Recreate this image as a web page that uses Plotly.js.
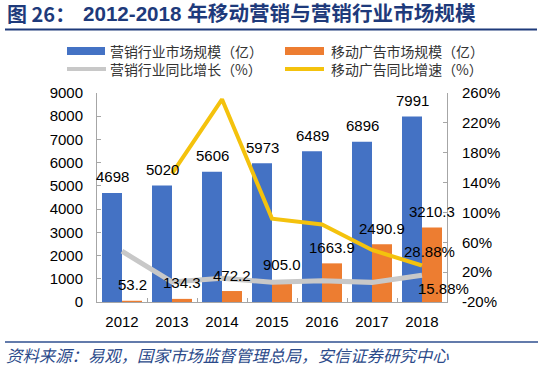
<!DOCTYPE html>
<html>
<head>
<meta charset="utf-8">
<script src="https://cdn.plot.ly/plotly-3.0.1.min.js"></script>
<style>html,body{margin:0;padding:0;background:#fff;}#chart{width:550px;height:372px;}</style>
</head>
<body>
<div id="chart"></div>
<script>
// ---- data ----
var years = ['2012', '2013', '2014', '2015', '2016', '2017', '2018'];
var marketSize = [4698, 5020, 5606, 5973, 6489, 6896, 7991];            // 营销行业市场规模（亿）
var mobileAdSize = [53.2, 134.3, 472.2, 905.0, 1663.9, 2490.9, 3210.3]; // 移动广告市场规模（亿）
var marketGrowth = [48, 6.9, 11.7, 6.5, 8.6, 6.3, 15.88];               // 营销行业同比增长（%）
var mobileAdGrowth = [null, 152, 251.6, 91.7, 83.9, 49.7, 28.88];       // 移动广告同比增速（%）
var leftTicks = [0, 1000, 2000, 3000, 4000, 5000, 6000, 7000, 8000, 9000];
var rightTicks = [-20, 20, 60, 100, 140, 180, 220, 260];

// ---- layout helpers (pixel -> paper) ----
var W = 550, H = 372, ML = 97, MR = 103, MT = 93, MB = 70;
var PW = W - ML - MR, PH = H - MT - MB;
function px(x) { return (x - ML) / PW; }
function py(y) { return (H - MB - y) / PH; }

var FONT = "'Liberation Sans', Arial, 'Noto Sans CJK SC', sans-serif";
var CJK = "'Noto Sans CJK SC', 'Liberation Sans', sans-serif";
var BLUE = '#4472C4', ORANGE = '#ED7D31', GRAY = '#C8C8C8', YELLOW = '#F4C20D';
var NAVY = '#1E3A7B';

var traces = [
  {type: 'bar', x: years, y: marketSize, name: '营销行业市场规模（亿）', marker: {color: BLUE}, showlegend: false, hoverinfo: 'none'},
  {type: 'bar', x: years, y: mobileAdSize, name: '移动广告市场规模（亿）', marker: {color: ORANGE}, showlegend: false, hoverinfo: 'none'},
  {type: 'scatter', mode: 'lines', x: years, y: marketGrowth, yaxis: 'y2', name: '营销行业同比增长（%）', line: {color: GRAY, width: 5}, showlegend: false, hoverinfo: 'none'},
  {type: 'scatter', mode: 'lines', x: years, y: mobileAdGrowth, yaxis: 'y2', name: '移动广告同比增速（%）', line: {color: YELLOW, width: 4}, showlegend: false, hoverinfo: 'none', connectgaps: false}
];

var annotations = [];
// bar value labels (x given as category index)
years.forEach(function (yr, i) {
  annotations.push({x: i, y: marketSize[i], xref: 'x', yref: 'y', text: String(marketSize[i]), showarrow: false,
    xshift: -10, yshift: 16, yanchor: 'middle', font: {family: FONT, size: 15, color: '#000'}});
  annotations.push({x: i, y: mobileAdSize[i], xref: 'x', yref: 'y', text: mobileAdSize[i].toFixed(1), showarrow: false,
    xshift: 10, yshift: 16, yanchor: 'middle', font: {family: FONT, size: 15, color: '#000'}});
});
// line end labels
var last = years.length - 1;
annotations.push({x: last, y: mobileAdGrowth[last], xref: 'x', yref: 'y2', text: mobileAdGrowth[last].toFixed(2) + '%',
  showarrow: false, xshift: 7, yshift: 14, yanchor: 'middle', font: {family: FONT, size: 15, color: '#000'}});
annotations.push({x: last, y: marketGrowth[last], xref: 'x', yref: 'y2', text: marketGrowth[last].toFixed(2) + '%',
  showarrow: false, xshift: 21, yshift: -13, yanchor: 'middle', font: {family: FONT, size: 15, color: '#000'}});

// title
annotations.push({xref: 'paper', yref: 'paper', x: px(5), y: py(14), xanchor: 'left', yanchor: 'middle', showarrow: false,
  text: '<b>图 26：</b>', font: {family: CJK, size: 20, color: NAVY}});
annotations.push({xref: 'paper', yref: 'paper', x: px(81), y: py(14), xanchor: 'left', yanchor: 'middle', showarrow: false,
  text: '<b>2012-2018 年移动营销与营销行业市场规模</b>', font: {family: "'Liberation Sans', 'Noto Sans CJK SC', sans-serif", size: 20.6, color: NAVY}});
// legend texts
var legendItems = [
  {text: '营销行业市场规模（亿）', x: 108, y: 51},
  {text: '移动广告市场规模（亿）', x: 329, y: 51},
  {text: '营销行业同比增长（%）', x: 108, y: 69},
  {text: '移动广告同比增速（%）', x: 329, y: 69}
];
legendItems.forEach(function (it) {
  annotations.push({xref: 'paper', yref: 'paper', x: px(it.x), y: py(it.y), xanchor: 'left', yanchor: 'middle', showarrow: false,
    text: it.text, font: {family: CJK, size: 13.9, color: '#333'}});
});
// source
annotations.push({xref: 'paper', yref: 'paper', x: px(4), y: py(355), xanchor: 'left', yanchor: 'middle', showarrow: false,
  text: '资料来源：易观，国家市场监督管理总局，安信证券研究中心', font: {family: CJK, size: 16.4, color: '#2B4A8A', style: 'italic'}});

var shapes = [
  {type: 'line', xref: 'paper', yref: 'paper', x0: px(5), x1: px(537), y0: py(29.5), y1: py(29.5), line: {color: NAVY, width: 2}},
  {type: 'line', xref: 'paper', yref: 'paper', x0: px(5), x1: px(538), y0: py(342), y1: py(342), line: {color: '#2F4F8F', width: 1.5}},
  {type: 'rect', xref: 'paper', yref: 'paper', x0: px(67), x1: px(105), y0: py(55), y1: py(47), fillcolor: BLUE, line: {width: 0}},
  {type: 'rect', xref: 'paper', yref: 'paper', x0: px(285), x1: px(324), y0: py(55), y1: py(47), fillcolor: ORANGE, line: {width: 0}},
  {type: 'line', xref: 'paper', yref: 'paper', x0: px(67), x1: px(106), y0: py(69), y1: py(69), line: {color: GRAY, width: 4}},
  {type: 'line', xref: 'paper', yref: 'paper', x0: px(285), x1: px(324), y0: py(69), y1: py(69), line: {color: YELLOW, width: 4}}
];

var layout = {
  width: W, height: H,
  margin: {l: ML, r: MR, t: MT, b: MB, pad: 0},
  paper_bgcolor: '#fff', plot_bgcolor: '#fff',
  barmode: 'group', bargap: 0.2, bargroupgap: 0,
  showlegend: false,
  font: {family: FONT, size: 15, color: '#000'},
  xaxis: {type: 'category', categoryorder: 'array', categoryarray: years, range: [-0.5, years.length - 0.5], autorange: false,
    tickfont: {family: FONT, size: 15, color: '#000'}, showline: true, linecolor: '#A6A6A6', linewidth: 1,
    ticks: 'inside', tickson: 'boundaries', ticklen: 4, tickcolor: '#A6A6A6', showgrid: false, zeroline: false, ticklabelstandoff: 6, fixedrange: true},
  yaxis: {range: [0, 9000], autorange: false, tickvals: leftTicks, ticktext: leftTicks.map(String), showline: true, linecolor: '#A6A6A6', linewidth: 1,
    ticks: 'inside', ticklen: 4, tickcolor: '#A6A6A6', showgrid: false, zeroline: false, tickfont: {family: FONT, size: 15, color: '#000'},
    ticklabelstandoff: 10, fixedrange: true},
  yaxis2: {range: [-20, 260], autorange: false, overlaying: 'y', side: 'right', tickvals: rightTicks, ticktext: rightTicks.map(function (v) { return v + '%'; }),
    showline: true, linecolor: '#A6A6A6', linewidth: 1, ticks: 'inside', ticklen: 4, tickcolor: '#A6A6A6', showgrid: false, zeroline: false,
    tickfont: {family: FONT, size: 15, color: '#000'}, ticklabelstandoff: 11, fixedrange: true},
  annotations: annotations,
  shapes: shapes
};

Plotly.newPlot('chart', traces, layout, {staticPlot: true, displayModeBar: false});
</script>
</body>
</html>
